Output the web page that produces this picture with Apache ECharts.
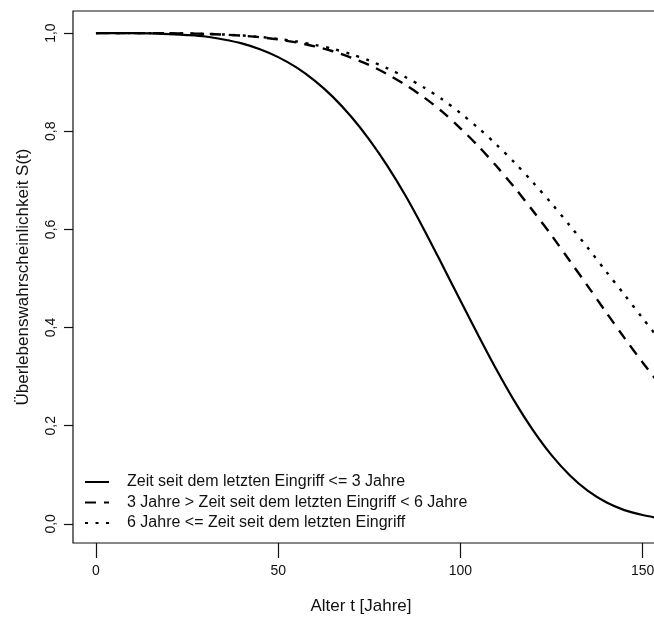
<!DOCTYPE html>
<html>
<head>
<meta charset="utf-8">
<script src="https://cdn.jsdelivr.net/npm/echarts@6/dist/echarts.min.js"></script>
<style>
  html, body { margin: 0; padding: 0; background: #fff; }
  #chart { width: 654px; height: 617px; }
</style>
</head>
<body>
<div id="chart"></div>
<script>
// Alter t [Jahre]
const ages = [0, 5, 10, 15, 20, 25, 30, 35, 40, 45, 50, 55, 60, 65, 70, 75,
              80, 85, 90, 95, 100, 105, 110, 115, 120, 125, 130, 135, 140, 145, 150, 155];

// S(t): Zeit seit dem letzten Eingriff <= 3 Jahre
const survShort = [1.000, 1.000, 1.000, 0.9995, 0.998, 0.996, 0.993, 0.987, 0.979, 0.967,
                   0.951, 0.930, 0.903, 0.870, 0.830, 0.783, 0.729, 0.668, 0.600, 0.528,
                   0.455, 0.383, 0.313, 0.248, 0.190, 0.140, 0.099, 0.067, 0.044, 0.028,
                   0.018, 0.011];

// S(t): 3 Jahre > Zeit seit dem letzten Eingriff < 6 Jahre
const survMid = [1.000, 1.000, 1.000, 0.9999, 0.9997, 0.9992, 0.9984, 0.9969, 0.9947, 0.9915,
                 0.987, 0.981, 0.973, 0.963, 0.950, 0.935, 0.916, 0.894, 0.869, 0.840,
                 0.806, 0.769, 0.728, 0.684, 0.637, 0.588, 0.536, 0.484, 0.431, 0.379,
                 0.329, 0.281];

// S(t): 6 Jahre <= Zeit seit dem letzten Eingriff
const survLong = [1.000, 1.000, 1.000, 0.9999, 0.9997, 0.9992, 0.9984, 0.9971, 0.9951, 0.9922,
                  0.988, 0.983, 0.976, 0.968, 0.957, 0.944, 0.928, 0.910, 0.889, 0.865,
                  0.837, 0.806, 0.772, 0.735, 0.695, 0.653, 0.608, 0.562, 0.514, 0.467,
                  0.419, 0.372];

const seriesNames = [
  'Zeit seit dem letzten Eingriff <= 3 Jahre',
  '3 Jahre > Zeit seit dem letzten Eingriff < 6 Jahre',
  '6 Jahre <= Zeit seit dem letzten Eingriff'
];

const xTicks = [0, 50, 100, 150];
const yTicks = [0, 0.2, 0.4, 0.6, 0.8, 1.0];

const xTitle = 'Alter t [Jahre]';
const yTitle = 'Überlebenswahrscheinlichkeit S(t)';

const FONT = '"Liberation Sans", Arial, sans-serif';

function pairs(xs, ys) { return xs.map((x, i) => [x, ys[i]]); }

const chart = echarts.init(document.getElementById('chart'), null, { renderer: 'canvas' });

const lineStyles = [
  { color: '#000', width: 2.2, type: 'solid' },
  { color: '#000', width: 2.4, type: [11, 8] },
  { color: '#000', width: 2.4, type: [3, 7.5] }
];
const dataSets = [survShort, survMid, survLong];

chart.setOption({
  backgroundColor: '#fff',
  animation: false,
  grid: {
    left: 73, top: 11, right: -40, bottom: 74,
    show: true, borderColor: '#111', borderWidth: 1.2,
    backgroundColor: 'transparent',
    containLabel: false,
    outerBoundsMode: 'none'
  },
  legend: {
    orient: 'vertical',
    left: 84, top: 474,
    padding: 0,
    itemWidth: 24, itemHeight: 14, itemGap: 4.5,
    selectedMode: false,
    itemStyle: { color: 'transparent', borderWidth: 0, opacity: 0 },
    lineStyle: { color: '#000' },
    textStyle: { fontFamily: FONT, fontSize: 16, color: '#111', padding: [0, 0, 0, 13] },
    data: seriesNames
  },
  xAxis: {
    type: 'value',
    min: -6.3, max: 164.1,
    axisLine: { show: false, onZero: false },
    splitLine: { show: false },
    axisTick: {
      show: true, inside: false, length: 15,
      customValues: xTicks,
      lineStyle: { color: '#111', width: 1.2 }
    },
    axisLabel: {
      customValues: xTicks,
      margin: 21,
      fontFamily: FONT, fontSize: 14, color: '#111'
    }
  },
  yAxis: {
    type: 'value',
    min: -0.039, max: 1.045,
    name: yTitle,
    nameLocation: 'middle',
    nameGap: 41,
    nameTextStyle: { fontFamily: FONT, fontSize: 17, color: '#111' },
    axisLine: { show: false, onZero: false },
    splitLine: { show: false },
    axisTick: {
      show: true, inside: false, length: 9,
      customValues: yTicks,
      lineStyle: { color: '#111', width: 1.2 }
    },
    axisLabel: {
      customValues: yTicks,
      rotate: 90,
      margin: 15,
      fontFamily: FONT, fontSize: 14, color: '#111',
      formatter: v => v.toFixed(1).replace('.', ',')
    }
  },
  graphic: [{
    type: 'text',
    x: 361, y: 606,
    style: {
      text: xTitle,
      fill: '#111',
      font: '17px ' + FONT,
      align: 'center',
      verticalAlign: 'middle'
    }
  }],
  series: seriesNames.map((name, i) => ({
    name: name,
    type: 'line',
    data: pairs(ages, dataSets[i]),
    showSymbol: false,
    symbol: 'none',
    smooth: 0.3,
    lineStyle: lineStyles[i],
    itemStyle: { color: '#000' },
    clip: true,
    z: 3 - i
  }))
});
</script>
</body>
</html>
